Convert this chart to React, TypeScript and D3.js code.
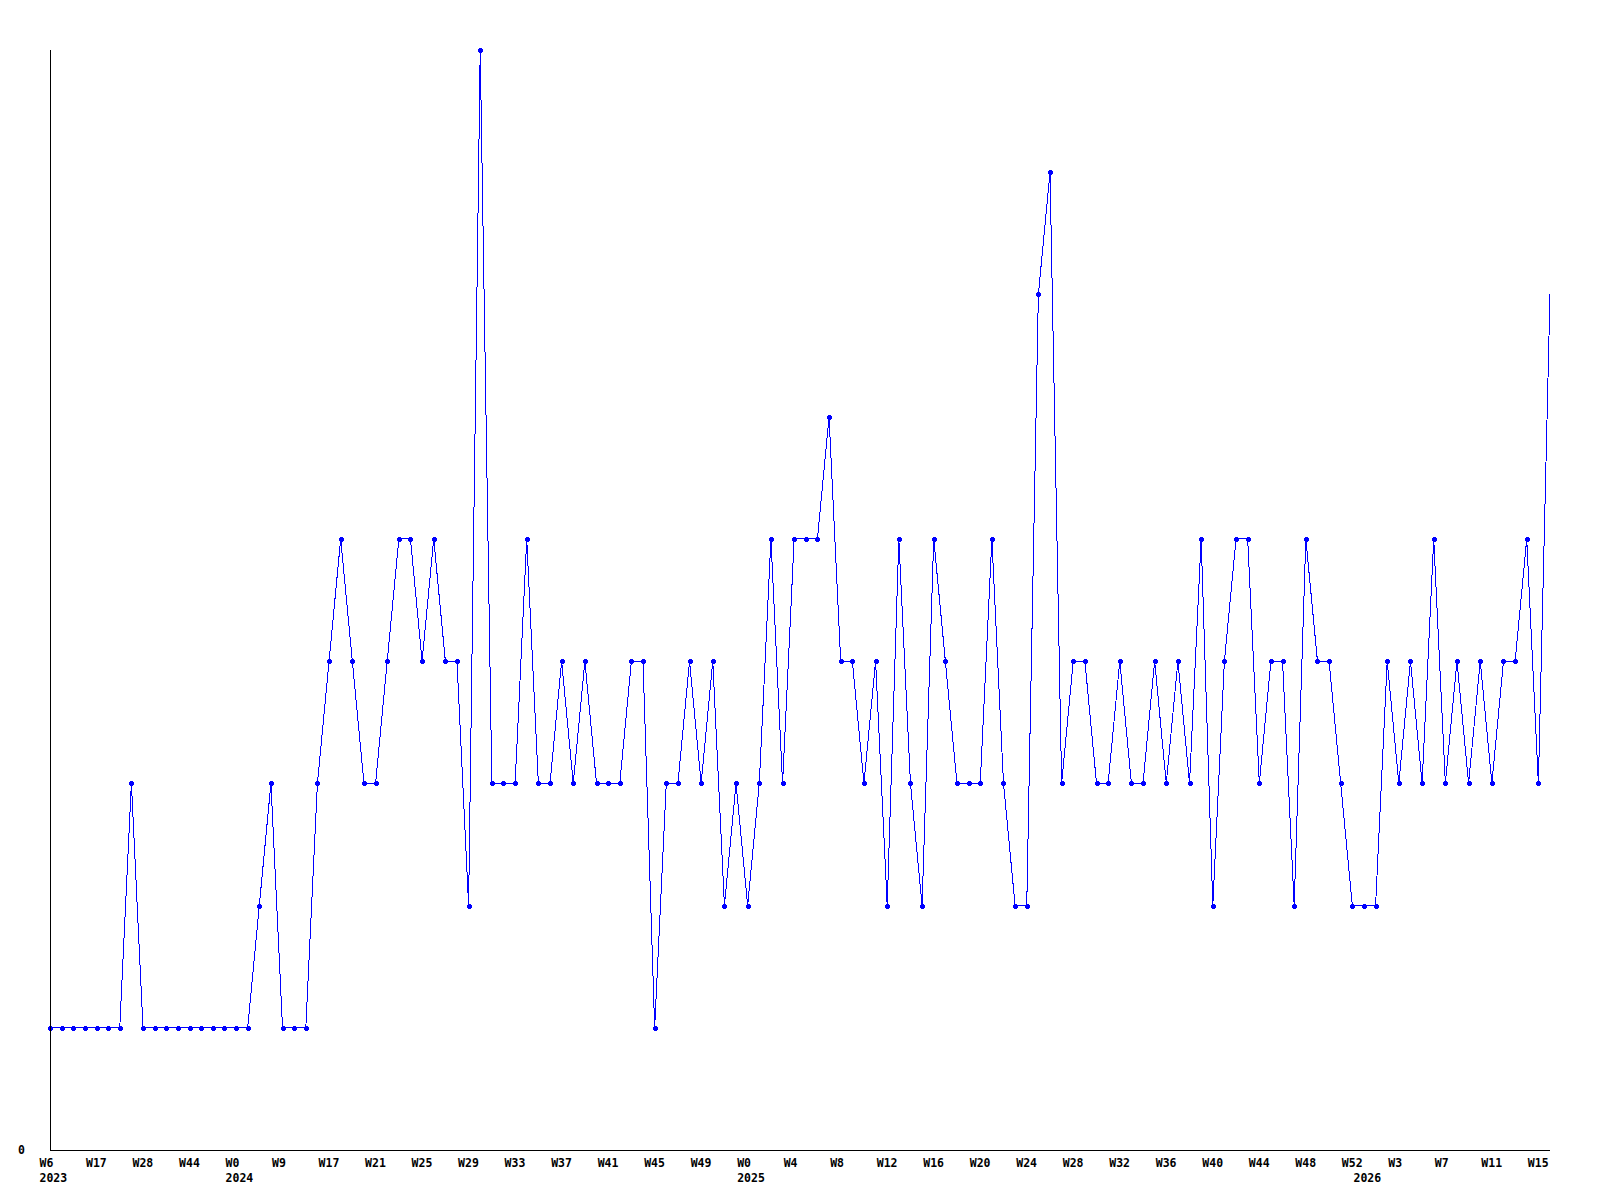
import React from "react";
import * as d3 from "d3";

// Week numbers per year (categorical x positions, one per data point)
const weeks2023 = [6, 8, 10, 14, 17, 20, 22, 25, 28, 31, 35, 40, 44, 47, 49, 51];
const weeks2024 = [0, 2, 4, 6, 9, 11, 13, 15, 17, 18, 19, 20, 21, 22, 23, 24, 25, 26, 27, 28, 29, 30, 31, 32, 33, 34, 35, 36, 37, 38, 39, 40, 41, 42, 43, 44, 45, 46, 47, 48, 49, 50, 51, 52];
const weeks2025 = [0, 1, 2, 3, 4, 5, 6, 7, 8, 9, 10, 11, 12, 13, 14, 15, 16, 17, 18, 19, 20, 21, 22, 23, 24, 25, 26, 27, 28, 29, 30, 31, 32, 33, 34, 35, 36, 37, 38, 39, 40, 41, 42, 43, 44, 45, 46, 47, 48, 49, 50, 51, 52];
const weeks2026 = [0, 1, 2, 3, 4, 5, 6, 7, 8, 9, 10, 11, 12, 13, 14, 15, 16];

const values = [
  1, 1, 1, 1, 1, 1, 1, 3, 1, 1, 1, 1, 1, 1, 1, 1,
  1, 1, 2, 3, 1, 1, 1, 3, 4, 5, 4, 3, 3, 4, 5, 5, 4, 5, 4, 4, 2, 9, 3, 3, 3, 5, 3, 3, 4, 3, 4, 3, 3, 3, 4, 4, 1, 3, 3, 4, 3, 4, 2, 3,
  2, 3, 5, 3, 5, 5, 5, 6, 4, 4, 3, 4, 2, 5, 3, 2, 5, 4, 3, 3, 3, 5, 3, 2, 2, 7, 8, 3, 4, 4, 3, 3, 4, 3, 3, 4, 3, 4, 3, 5, 2, 4, 5, 5, 3, 4, 4, 2, 5, 4, 4, 3, 2,
  2, 2, 4, 3, 4, 3, 5, 3, 4, 3, 4, 3, 4, 4, 5, 3, 7,
];

const yTickLabels = ["0"];
const tickEvery = 4;

type Pt = { year: number; week: number; value: number; i: number };

const categories: { year: number; week: number }[] = [
  ...weeks2023.map((w) => ({ year: 2023, week: w })),
  ...weeks2024.map((w) => ({ year: 2024, week: w })),
  ...weeks2025.map((w) => ({ year: 2025, week: w })),
  ...weeks2026.map((w) => ({ year: 2026, week: w })),
];

const data: Pt[] = categories.map((c, i) => ({ ...c, value: values[i], i }));

export default function App() {
  const W = 1600;
  const H = 1200;
  const left = 50;
  const right = 1550;
  const top = 50;
  const bottom = 1150;

  const x = d3.scaleLinear().domain([0, data.length - 1]).range([left, right]);
  const y = d3.scaleLinear().domain([0, 9]).range([bottom, top]);

  const line = d3
    .line<Pt>()
    .x((d) => x(d.i))
    .y((d) => y(d.value));

  const font = "'DejaVu Sans Mono', monospace";
  const ticks = data.filter((d) => d.i % tickEvery === 0);
  const yearStarts = data.filter((d, k) => k === 0 || data[k - 1].year !== d.year);

  const marker = "M-2.5,-1.5h1v-1h3v1h1v3h-1v1h-3v-1h-1z";

  return (
    <svg
      width={W}
      height={H}
      style={{ position: "absolute", left: 0, top: 0, background: "#fff" }}
    >
      <rect x={0} y={0} width={W} height={H} fill="#fff" />
      <path
        d={line(data) || ""}
        fill="none"
        stroke="#0000ff"
        strokeWidth={1}
        shapeRendering="crispEdges"
      />
      {data.slice(0, data.length - 1).map((d) => (
        <path
          key={d.i}
          d={marker}
          transform={`translate(${Math.round(x(d.i))},${Math.round(y(d.value))})`}
          fill="#0000ff"
          shapeRendering="crispEdges"
        />
      ))}
      <line x1={left + 0.5} x2={left + 0.5} y1={top} y2={bottom + 1} stroke="#000" shapeRendering="crispEdges" />
      <line x1={left} x2={right} y1={bottom + 0.5} y2={bottom + 0.5} stroke="#000" shapeRendering="crispEdges" />
      {yTickLabels.map((t) => (
        <text
          key={t}
          x={25}
          y={y(+t) + 4}
          textAnchor="end"
          fontFamily={font}
          fontWeight="bold"
          fontSize={11.5}
          fill="#000"
        >
          {t}
        </text>
      ))}
      {ticks.map((d) => (
        <text
          key={"t" + d.i}
          x={x(d.i) - 10.5}
          y={1167}
          fontFamily={font}
          fontWeight="bold"
          fontSize={11.5}
          fill="#000"
        >
          {"W" + d.week}
        </text>
      ))}
      {yearStarts.map((d) => (
        <text
          key={"y" + d.year}
          x={x(d.i) - 10.5}
          y={1181.5}
          fontFamily={font}
          fontWeight="bold"
          fontSize={11.5}
          fill="#000"
        >
          {d.year}
        </text>
      ))}
    </svg>
  );
}
